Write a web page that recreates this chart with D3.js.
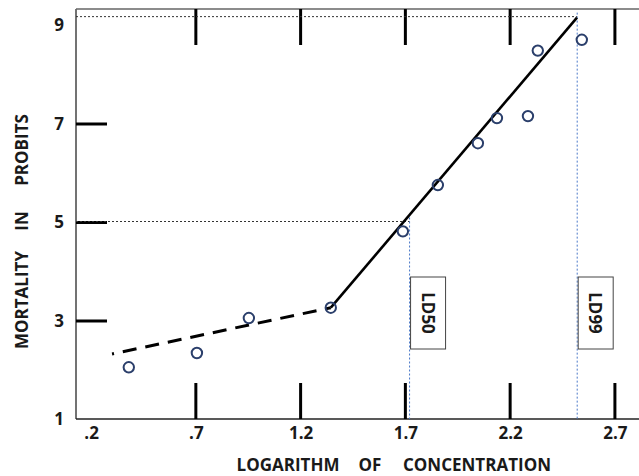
<!DOCTYPE html>
<html>
<head>
<meta charset="utf-8">
<script src="https://cdn.jsdelivr.net/npm/d3@7"></script>
<style>
  html, body { margin: 0; padding: 0; background: #fff; }
  svg { display: block; }
  text { font-family: "Open Sans", "DejaVu Sans", sans-serif; font-weight: 700; fill: #1a1a1a; }
</style>
</head>
<body>
<svg id="chart" width="639" height="476"></svg>
<script>
// ---- data ----
const logConc   = [0.38, 0.705, 0.953, 1.344, 1.688, 1.855, 2.046, 2.137, 2.285, 2.332, 2.542];
const probits   = [2.06, 2.35, 3.06, 3.27, 4.82, 5.76, 6.61, 7.12, 7.16, 8.49, 8.71];
const dashedFit = [[0.30, 2.33], [1.344, 3.27]];
const solidFit  = [[1.344, 3.27], [2.519, 9.16]];
const xTickValues = [0.2, 0.7, 1.2, 1.7, 2.2, 2.7];
const xTickLabels = [".2", ".7", "1.2", "1.7", "2.2", "2.7"];
const xTickMarks  = [0.7, 1.2, 1.7, 2.2, 2.7];
const yTickValues = [1, 3, 5, 7, 9];
const yTickLabels = ["1", "3", "5", "7", "9"];
const yTickMarks  = [3, 5, 7];
const ldNames  = ["LD50", "LD99"];
const ldX      = [1.72, 2.52];
const ldY      = [5.02, 9.18];
const xTitleWords = ["LOGARITHM", "OF", "CONCENTRATION"];
const yTitleWords = ["MORTALITY", "IN", "PROBITS"];

// ---- layout ----
const svg = d3.select("#chart");
const L = 76, R = 639, T = 9, B = 419;
const x = d3.scaleLinear().domain([0.128, 2.815]).range([L, R]);
const y = d3.scaleLinear().domain([1.01, 9.335]).range([B, T]);

// frame
svg.append("line").attr("x1", L).attr("x2", L).attr("y1", T).attr("y2", B)
  .attr("stroke", "#444").attr("stroke-width", 1.5);
svg.append("line").attr("x1", L).attr("x2", R).attr("y1", T).attr("y2", T)
  .attr("stroke", "#666").attr("stroke-width", 1.5);
svg.append("line").attr("x1", L).attr("x2", R).attr("y1", B).attr("y2", B)
  .attr("stroke", "#222").attr("stroke-width", 1.5);

// inward tick marks
const tickLen = 36;
svg.selectAll(".xtb").data(xTickMarks).enter().append("line")
  .attr("x1", d => x(d)).attr("x2", d => x(d)).attr("y1", B).attr("y2", B - tickLen)
  .attr("stroke", "#000").attr("stroke-width", 3);
svg.selectAll(".xtt").data(xTickMarks).enter().append("line")
  .attr("x1", d => x(d)).attr("x2", d => x(d)).attr("y1", T).attr("y2", T + tickLen)
  .attr("stroke", "#000").attr("stroke-width", 3);
svg.selectAll(".yt").data(yTickMarks).enter().append("line")
  .attr("x1", L).attr("x2", L + 31).attr("y1", d => y(d)).attr("y2", d => y(d))
  .attr("stroke", "#000").attr("stroke-width", 3);

// axes labels via d3 axes
const xAxis = d3.axisBottom(x).tickValues(xTickValues).tickSize(0).tickPadding(8)
  .tickFormat((d, i) => xTickLabels[i]);
const gx = svg.append("g").attr("transform", `translate(0,${B})`).call(xAxis);
gx.select(".domain").remove();
gx.selectAll("text").style("font-size", "17px").style("font-family", null).attr("fill", "#1a1a1a");

const yAxis = d3.axisLeft(y).tickValues(yTickValues).tickSize(0).tickPadding(12)
  .tickFormat((d, i) => yTickLabels[i]);
const gy = svg.append("g").attr("transform", `translate(${L},0)`).call(yAxis);
gy.select(".domain").remove();
gy.selectAll("text").style("font-size", "17px").style("font-family", null).attr("fill", "#1a1a1a");

// reference lines (LD50 / LD99)
ldX.forEach((lx, i) => {
  svg.append("line").attr("x1", L).attr("x2", x(lx)).attr("y1", y(ldY[i])).attr("y2", y(ldY[i]))
    .attr("stroke", "#333").attr("stroke-width", 1).attr("stroke-dasharray", "2,2");
  svg.append("line").attr("x1", x(lx)).attr("x2", x(lx)).attr("y1", y(ldY[i]) - 4).attr("y2", B)
    .attr("stroke", "#4a78c8").attr("stroke-width", 1).attr("stroke-dasharray", "2,2");
  const bx = x(lx) + 1, by = 277, bw = 35, bh = 72;
  svg.append("rect").attr("x", bx).attr("y", by).attr("width", bw).attr("height", bh)
    .attr("fill", "#fff").attr("stroke", "#444").attr("stroke-width", 1);
  svg.append("text")
    .attr("transform", `translate(${bx + bw / 2},${by + bh / 2}) rotate(90)`)
    .attr("text-anchor", "middle").attr("dominant-baseline", "central")
    .style("font-size", "17px").text(ldNames[i]);
});

// fitted lines
const line = d3.line().x(d => x(d[0])).y(d => y(d[1]));
svg.append("path").attr("d", line(dashedFit)).attr("fill", "none")
  .attr("stroke", "#000").attr("stroke-width", 3).attr("stroke-dasharray", "14,9")
  .attr("stroke-dashoffset", 12);
svg.append("path").attr("d", line(solidFit)).attr("fill", "none")
  .attr("stroke", "#000").attr("stroke-width", 2.6);

// data points
svg.selectAll(".pt").data(logConc).enter().append("circle")
  .attr("cx", d => x(d)).attr("cy", (d, i) => y(probits[i])).attr("r", 5.2)
  .attr("fill", "none").attr("stroke", "#2b3f6b").attr("stroke-width", 2);

// axis titles (word positions as in the original layout)
const xWordCenters = [288, 370, 477];
svg.selectAll(".xtw").data(xTitleWords).enter().append("text")
  .attr("x", (d, i) => xWordCenters[i]).attr("y", 471).attr("text-anchor", "middle")
  .style("font-size", "17px").text(d => d);
const yWordCenters = [300, 221, 150];
svg.selectAll(".ytw").data(yTitleWords).enter().append("text")
  .attr("transform", (d, i) => `translate(28,${yWordCenters[i]}) rotate(-90)`)
  .attr("text-anchor", "middle")
  .style("font-size", "17px").text(d => d);
</script>
</body>
</html>
